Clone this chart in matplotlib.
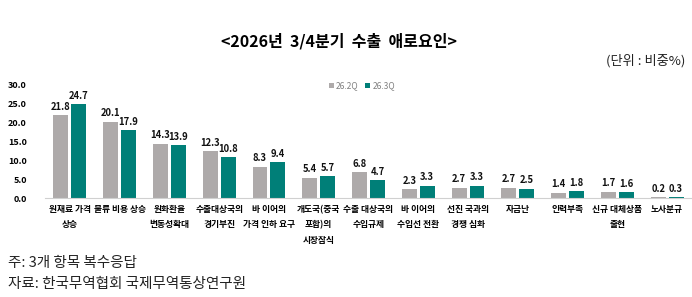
import matplotlib.pyplot as plt
import numpy as np

plt.rcParams['font.family'] = ['Noto Sans CJK KR', 'DejaVu Sans']

categories = ['원재료 가격\n상승', '물류 비용 상승', '원화환율\n변동성확대', '수출대상국의\n경기부진',
              '바 이어의\n가격 인하 요구', '개도국(중국\n포함)의\n시장잠식', '수출 대상국의\n수입규제',
              '바 이어의\n수입선 전환', '선진 국과의\n경쟁 심화', '자금난', '인력부족',
              '신규 대체상품\n출현', '노사분규']
q2 = [21.8, 20.1, 14.3, 12.3, 8.3, 5.4, 6.8, 2.3, 2.7, 2.7, 1.4, 1.7, 0.2]
q3 = [24.7, 17.9, 13.9, 10.8, 9.4, 5.7, 4.7, 3.3, 3.3, 2.5, 1.8, 1.6, 0.3]
yticks = [0, 5, 10, 15, 20, 25, 30]

gray = '#aeaaaa'
teal = '#007f78'

fig = plt.figure(figsize=(6.92, 2.97), dpi=100)
ax = fig.add_axes([0.065, 0.333, 0.935, 0.384])

x = np.arange(len(categories))
w = 0.30
off = 0.18
b1 = ax.bar(x - off, q2, w, color=gray, label='26.2Q')
b2 = ax.bar(x + off, q3, w, color=teal, label='26.3Q')

for bars, vals in [(b1, q2), (b2, q3)]:
    for b, v in zip(bars, vals):
        ax.text(b.get_x() + b.get_width() / 2, v + 0.9, f'{v:.1f}', ha='center', va='bottom',
                fontsize=6.8, fontweight='bold', color='#111111')

ax.set_xlim(-0.5, len(categories) - 0.5)
ax.set_ylim(0, 30)
ax.set_yticks(yticks)
ax.set_yticklabels([f'{t:.1f}' for t in yticks], fontsize=6.5, fontweight='bold')
ax.set_xticks(x)
ax.set_xticklabels(categories, fontsize=6.3, fontweight='bold', linespacing=1.9, va='top')
ax.tick_params(axis='both', length=0, pad=5)
ax.tick_params(axis='y', pad=13)
for s in ['top', 'right', 'left']:
    ax.spines[s].set_visible(False)
ax.spines['bottom'].set_color('#d0d0d0')

ax.legend(loc='upper center', bbox_to_anchor=(0.49, 1.09), ncol=2, frameon=False, fontsize=6,
          handlelength=0.6, handleheight=0.6, handletextpad=0.3, columnspacing=0.8,
          labelcolor='#808080')

fig.text(0.49, 0.86, '<2026년  3/4분기  수출  애로요인>', ha='center', va='center',
         fontsize=11.5, fontweight='bold')
fig.text(0.99, 0.795, '(단위 : 비중%)', ha='right', va='center', fontsize=9.5, color='#222222')
fig.text(0.012, 0.115, '주: 3개 항목 복수응답', ha='left', va='center', fontsize=10.5, color='#222222')
fig.text(0.012, 0.045, '자료: 한국무역협회 국제무역통상연구원', ha='left', va='center', fontsize=10.5,
         color='#222222')

fig.savefig('out.png', dpi=100)
